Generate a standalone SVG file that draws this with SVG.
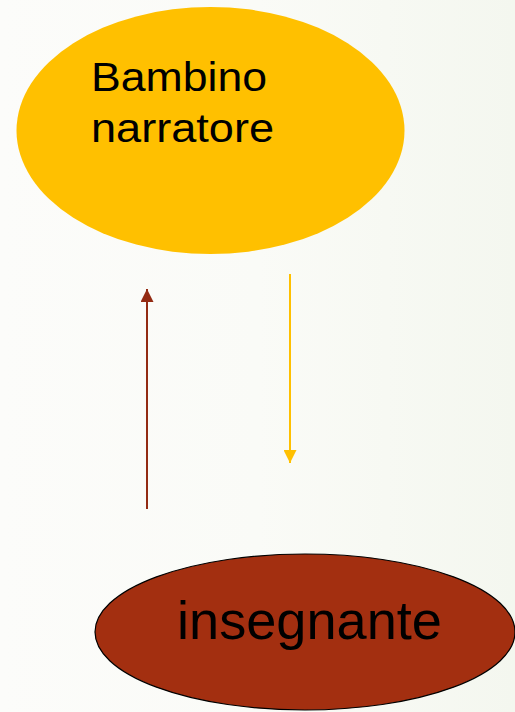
<svg xmlns="http://www.w3.org/2000/svg" width="515" height="712" viewBox="0 0 515 712">
<defs>
<linearGradient id="bg" x1="0" y1="0" x2="515" y2="0" gradientUnits="userSpaceOnUse">
<stop offset="0" stop-color="#FCFCFA"/>
<stop offset="0.5" stop-color="#FAFBF7"/>
<stop offset="1" stop-color="#F4F7EF"/>
</linearGradient>
<marker id="ahBrown" viewBox="0 0 10 10" refX="10" refY="5" markerUnits="userSpaceOnUse" markerWidth="13" markerHeight="13" orient="auto">
<path d="M0,0 L10,5 L0,10 Z" fill="#932B13"/>
</marker>
<marker id="ahYellow" viewBox="0 0 10 10" refX="10" refY="5" markerUnits="userSpaceOnUse" markerWidth="13" markerHeight="13" orient="auto">
<path d="M0,0 L10,5 L0,10 Z" fill="#FFC000"/>
</marker>
</defs>
<style>
.lbl{font-family:"Liberation Sans",Arial,sans-serif;fill:#000}
</style>
<rect width="515" height="712" fill="url(#bg)"/>
<g id="bambino">
<ellipse cx="210.5" cy="130.5" rx="194" ry="123.5" fill="#FFC000"/>
<text class="lbl" x="91" y="91" font-size="40" textLength="176" lengthAdjust="spacingAndGlyphs">Bambino</text>
<text class="lbl" x="91" y="142" font-size="40" textLength="183" lengthAdjust="spacingAndGlyphs">narratore</text>
</g>
<g id="insegnante">
<ellipse cx="305" cy="632" rx="210" ry="78" fill="#A32F10" stroke="#000" stroke-width="1.2"/>
<text class="lbl" x="177" y="639" font-size="54" textLength="265" lengthAdjust="spacingAndGlyphs">insegnante</text>
</g>
<g id="connectors">
<line x1="147" y1="509" x2="147" y2="289" stroke="#932B13" stroke-width="2" marker-end="url(#ahBrown)"/>
<line x1="290" y1="274" x2="290" y2="463" stroke="#FFC000" stroke-width="2" marker-end="url(#ahYellow)"/>
</g>
</svg>
